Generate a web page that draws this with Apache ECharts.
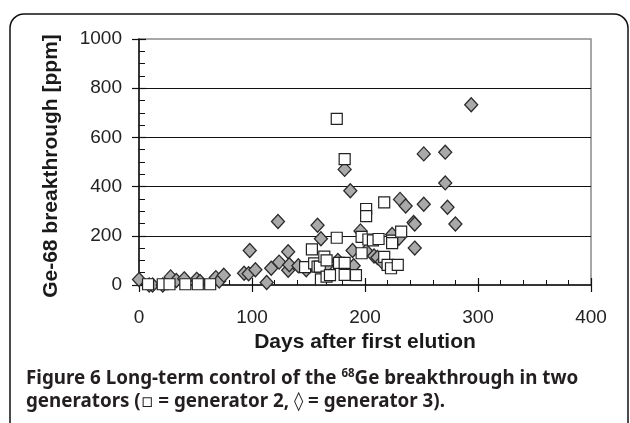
<!DOCTYPE html>
<html>
<head>
<meta charset="utf-8">
<script src="https://cdn.jsdelivr.net/npm/echarts@6/dist/echarts.min.js"></script>
<style>
  html, body { margin: 0; padding: 0; background: #fff; }
  #chart { width: 630px; height: 423px; }
</style>
</head>
<body>
<div id="chart"></div>
<script>
// generator 2 (squares)
const gen2Days = [8, 21, 27, 41, 52, 63, 147, 153, 155, 158, 160, 161, 164, 166, 166, 169, 175, 175, 177, 182, 182, 182, 192, 197, 197, 201, 201, 203, 207, 212, 217, 217, 220, 223, 224, 224, 229, 232]
const gen2Ppm = [3, 3, 3, 3, 3, 3, 73, 145, 88, 75, 75, 23, 115, 100, 34, 40, 675, 192, 90, 90, 512, 41, 40, 196, 129, 309, 280, 185, 181, 187, 336, 114, 82, 68, 180, 170, 82, 217]

// generator 3 (diamonds)
const gen3Days = [0, 9, 12, 21, 28, 33, 40, 51, 54, 68, 71, 75, 93, 97, 98, 103, 113, 117, 124, 123, 132, 132, 133, 141, 148, 158, 161, 166, 176, 182, 187, 189, 190, 196, 201, 208, 211, 215, 224, 230, 231, 236, 243, 244, 244, 252, 252, 271, 271, 273, 280, 294]
const gen3Ppm = [22, 0, 0, 0, 33, 18, 25, 23, 14, 30, 16, 40, 48, 46, 140, 62, 10, 68, 93, 258, 135, 60, 82, 78, 62, 243, 188, 77, 100, 470, 383, 140, 78, 220, 138, 118, 112, 95, 205, 190, 348, 321, 254, 248, 150, 533, 328, 540, 415, 316, 248, 733]

// [min, max, interval]
const xTicks = [0, 400, 100]
const yTicks = [0, 1000, 200]

const gen2 = gen2Days.map((d, i) => [d, gen2Ppm[i]])
const gen3 = gen3Days.map((d, i) => [d, gen3Ppm[i]])

const chart = echarts.init(document.getElementById('chart'))

const axisFont = '"Liberation Sans", Arial, sans-serif'
const capFont = '"Noto Sans", "DejaVu Sans", sans-serif'
const capColor = '#231f20'

const option = {
  backgroundColor: '#fff',
  animation: false,
  grid: {
    left: 139,
    right: 39,
    top: 39,
    bottom: 138,
    show: true,
    borderColor: '#8a8a8a',
    borderWidth: 1.5
  },
  xAxis: [
    {
      type: 'value',
      min: xTicks[0],
      max: xTicks[1],
      interval: xTicks[2],
      name: 'Days after first elution',
      nameLocation: 'middle',
      nameGap: 47,
      nameTextStyle: { fontFamily: axisFont, fontWeight: 'bold', fontSize: 21, color: '#1a1a1a' },
      axisLine: { lineStyle: { color: '#111', width: 1.5 } },
      axisTick: { inside: true, length: 7, lineStyle: { color: '#111', width: 1.2 } },
      minorTick: { show: true, splitNumber: 5, length: 5, lineStyle: { color: '#111', width: 1 } },
      axisLabel: { fontFamily: axisFont, fontSize: 19, color: '#222', margin: 23, formatter: (v) => String(v) },
      splitLine: { show: false }
    },
    {
      // outer half of the major ticks
      type: 'value',
      min: xTicks[0],
      max: xTicks[1],
      interval: xTicks[2],
      position: 'bottom',
      axisLine: { show: false },
      axisTick: { inside: false, length: 7, lineStyle: { color: '#111', width: 1.2 } },
      axisLabel: { show: false },
      splitLine: { show: false }
    }
  ],
  yAxis: [
    {
      type: 'value',
      min: yTicks[0],
      max: yTicks[1],
      interval: yTicks[2],
      name: 'Ge-68 breakthrough [ppm]',
      nameLocation: 'middle',
      nameGap: 77,
      nameTextStyle: { fontFamily: axisFont, fontWeight: 'bold', fontSize: 21, color: '#1a1a1a', padding: [0, 8, 0, 0] },
      axisLine: { show: true, lineStyle: { color: '#111', width: 1.5 } },
      axisTick: { show: true, inside: true, length: 7, lineStyle: { color: '#111', width: 1.2 } },
      minorTick: { show: true, splitNumber: 4, length: 6, lineStyle: { color: '#111', width: 1 } },
      axisLabel: { fontFamily: axisFont, fontSize: 19, color: '#222', margin: 17, formatter: (v) => String(v) },
      splitLine: {
        show: true,
        showMinLine: false,
        showMaxLine: false,
        lineStyle: { color: '#111', width: 1.2 }
      }
    },
    {
      type: 'value',
      min: yTicks[0],
      max: yTicks[1],
      interval: yTicks[2],
      position: 'left',
      axisLine: { show: false },
      axisTick: { show: true, inside: false, length: 7, lineStyle: { color: '#111', width: 1.2 } },
      axisLabel: { show: false },
      splitLine: { show: false }
    }
  ],
  series: [
    {
      name: 'generator 3',
      type: 'scatter',
      symbol: 'diamond',
      symbolSize: [13, 14],
      data: gen3,
      itemStyle: { color: '#a9a9a9', borderColor: '#2a2a2a', borderWidth: 1.3, opacity: 1 },
      z: 2
    },
    {
      name: 'generator 2',
      type: 'scatter',
      symbol: 'rect',
      symbolSize: 11,
      data: gen2,
      itemStyle: { color: '#fff', borderColor: '#222', borderWidth: 1.2, opacity: 1 },
      z: 3
    }
  ],
  graphic: [
    {
      type: 'rect',
      shape: { x: 10, y: 14, width: 618, height: 440, r: 14 },
      style: { fill: 'none', stroke: '#111', lineWidth: 1.5 },
      silent: true
    },
    {
      type: 'text',
      left: 26,
      top: 368,
      style: {
        text: '{n|Figure 6 Long-term control of the }{sup|68}{n|Ge breakthrough in two}',
        rich: {
          n: { fontFamily: capFont, fontWeight: 'bold', fontSize: 18.8, fill: capColor, lineHeight: 22 },
          sup: { fontFamily: capFont, fontWeight: 'bold', fontSize: 11.5, fill: capColor, verticalAlign: 'top', lineHeight: 22 }
        }
      }
    },
    {
      type: 'text',
      left: 26,
      top: 392,
      style: {
        text: 'generators (\u25AB = generator 2, \u25CA = generator 3).',
        fontFamily: capFont,
        fontWeight: 'bold',
        fontSize: 18.8,
        fill: capColor
      }
    }
  ]
}

chart.setOption(option)
</script>
</body>
</html>
